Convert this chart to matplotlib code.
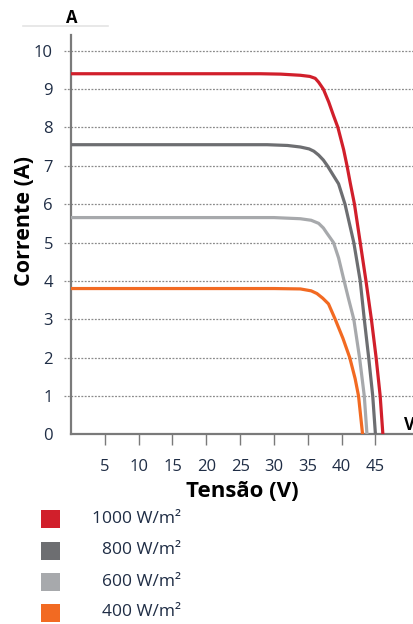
import matplotlib.pyplot as plt
from matplotlib.patches import Rectangle
from matplotlib.lines import Line2D

plt.rcParams['font.family'] = ['Open Sans', 'DejaVu Sans']

# I-V curves, per irradiance
labels = ["1000 W/m²", "800 W/m²", "600 W/m²", "400 W/m²"]
colors = ["#d11f2b", "#6d6e71", "#a7a9ac", "#f26a22"]

red_v = [0, 28, 31, 33.9, 35.3, 36.1, 36.6, 37.3, 38.1, 38.8, 39.45, 40.3, 40.8,
         41.3, 41.9, 42.75, 43.6, 44.4, 45.1, 45.7, 46.1]
red_i = [9.4, 9.4, 9.39, 9.36, 9.33, 9.28, 9.18, 9.0, 8.66, 8.31, 8.0, 7.42, 7.0,
         6.53, 6.0, 5.0, 4.0, 3.0, 2.0, 1.0, 0.0]

dk_v = [0, 29, 32, 33.9, 35.2, 35.9, 36.6, 37.3, 37.9, 38.6, 39.55, 40.5, 41.8,
        42.75, 43.35, 44.0, 44.6, 45.0]
dk_i = [7.55, 7.55, 7.53, 7.49, 7.44, 7.38, 7.28, 7.15, 7.0, 6.8, 6.53, 6.0, 5.0,
        4.0, 3.0, 2.0, 1.0, 0.0]

lg_v = [0, 30, 33.9, 35.5, 36.6, 37.3, 37.8, 38.8, 39.55, 40.3, 41.0, 41.8,
        42.65, 43.35, 43.75]
lg_i = [5.65, 5.65, 5.62, 5.58, 5.5, 5.38, 5.25, 5.0, 4.6, 4.05, 3.55, 3.0,
        2.0, 1.0, 0.0]

or_v = [0, 30, 33.9, 35.5, 36.35, 37.2, 38.06, 39.05, 40.2, 41.2, 42.0, 42.5, 43.1]
or_i = [3.8, 3.8, 3.79, 3.74, 3.67, 3.55, 3.4, 3.0, 2.5, 2.0, 1.45, 1.0, 0.0]

xticks = [5, 10, 15, 20, 25, 30, 35, 40, 45]
yticks = list(range(11))

W, H = 414, 624
fig = plt.figure(figsize=(W / 100, H / 100), dpi=100)
ax = fig.add_axes([71 / W, 1 - 434.3 / H, 343 / W, 399.3 / H])
ax.set_xlim(0, 50.7)
ax.set_ylim(0, 10.41)

tick_col = "#1f2d45"
grid_col = "#8a8a8a"
for y in yticks[1:]:
    ax.plot([-1.0, 50.7], [y, y], color=grid_col, lw=0.9, ls=(0, (1.5, 1.2)),
            clip_on=False, zorder=1)

series = [(red_v, red_i), (dk_v, dk_i), (lg_v, lg_i), (or_v, or_i)]
for (v, i), c in zip(series, colors):
    ax.plot(v, i, color=c, lw=2.3, solid_joinstyle='round', zorder=3)

for s in ['top', 'right']:
    ax.spines[s].set_visible(False)
for s in ['left', 'bottom']:
    ax.spines[s].set_color("#7a7a7a")
    ax.spines[s].set_linewidth(1.6)

ax.set_xticks(xticks)
ax.set_yticks(yticks)
ax.tick_params(axis='x', length=8, width=1.0, color="#7a7a7a", pad=10,
               labelsize=12, labelcolor=tick_col)
ax.tick_params(axis='y', length=0, pad=13, labelsize=12, labelcolor=tick_col)

ax.set_xlabel("Tensão (V)", fontsize=16, fontweight='bold', labelpad=4)
ax.set_ylabel("Corrente (A)", fontsize=15.5, fontweight='bold')
ax.yaxis.set_label_coords(-0.105, 0.534)

fig.text(72 / W, 1 - 18 / H, "A", fontsize=12, fontweight='bold',
         ha='center', va='center')
fig.text(404 / W, 1 - 425 / H, "V", fontsize=12, fontweight='bold',
         ha='left', va='center')
fig.add_artist(Line2D([23 / W, 108 / W], [1 - 25.5 / H, 1 - 25.5 / H],
                      color="#e4e4e4", lw=1.2))

rows = [519, 550.5, 582, 612.5]
for lab, c, yc in zip(labels, colors, rows):
    fig.add_artist(Rectangle((41 / W, 1 - (yc + 9) / H), 19 / W, 18 / H,
                             facecolor=c, edgecolor='none'))
    fig.text(181 / W, 1 - yc / H, lab, fontsize=12.5, color=tick_col,
             ha='right', va='center')

fig.savefig("out.png", dpi=100)
